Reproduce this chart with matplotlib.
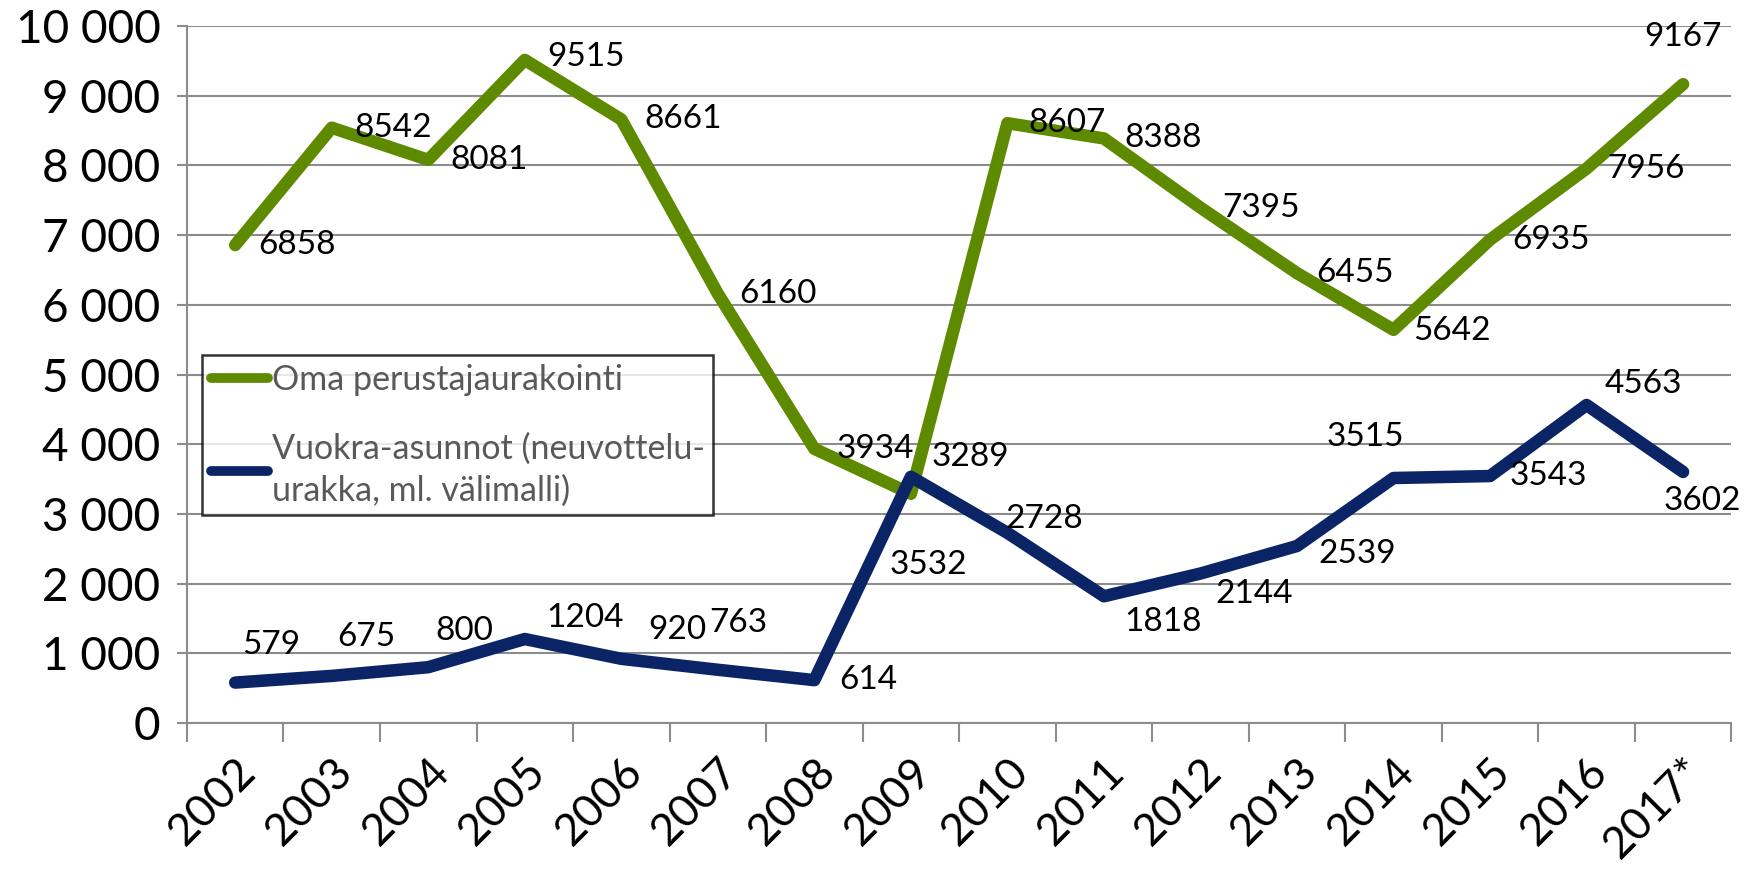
import numpy as np
import matplotlib.pyplot as plt

years = ['2002', '2003', '2004', '2005', '2006', '2007', '2008', '2009',
         '2010', '2011', '2012', '2013', '2014', '2015', '2016', '2017*']
oma = [6858, 8542, 8081, 9515, 8661, 6160, 3934, 3289,
       8607, 8388, 7395, 6455, 5642, 6935, 7956, 9167]
vuokra = [579, 675, 800, 1204, 920, 763, 614, 3532,
          2728, 1818, 2144, 2539, 3515, 3543, 4563, 3602]
names = ['Oma perustajaurakointi',
         'Vuokra-asunnot (neuvottelu-\nurakka, ml. välimalli)']

# label offsets (pixels, x right / y up)
oma_off = [(55, 0), (55, 0), (54, 0), (55, 3), (55, 0), (54, 0), (54, 0), (53, 33),
           (53, 0), (53, 0), (54, 0), (52, 0), (52, -1), (54, 0), (53, 0), (0, 42)]
vuokra_off = [(32, 34), (31, 35), (32, 32), (54, 19), (50, 26), (18, 42), (48, 0), (16, -79),
              (33, 12), (53, -23), (48, -18), (54, -7), (-25, 37), (52, 0), (51, 19), (17, -26)]

GREEN = '#5E8A00'
NAVY = '#0A2466'
GRID = '#8C8C8C'

plt.rcParams['font.family'] = ['Lato', 'DejaVu Sans']

fig = plt.figure(figsize=(17.57, 8.71), dpi=100)
ax = fig.add_axes([0.1064, 0.170, 0.879, 0.800])

x = np.arange(len(years))
for vals, col, lab, offs in [(oma, GREEN, names[0], oma_off), (vuokra, NAVY, names[1], vuokra_off)]:
    ax.plot(x, vals, color=col, lw=9, label=lab, solid_capstyle='round',
            solid_joinstyle='round', zorder=3)
    for xi, v, (dx, dy) in zip(x, vals, offs):
        ax.annotate(str(v), (xi, v), xytext=(dx * 1.12, dy * 1.12), textcoords='offset pixels',
                    ha='center', va='center', fontsize=24, color='black', zorder=4)

ax.set_xlim(-0.5, len(years) - 0.5)
ax.set_ylim(0, 10000)
ax.set_yticks(np.arange(0, 10001, 1000))
ax.set_yticklabels([f'{v:,}'.replace(',', ' ') for v in range(0, 10001, 1000)])
ax.yaxis.grid(True, color=GRID, lw=1.5)
ax.set_axisbelow(True)

ax.set_xticks(x)
ax.set_xticklabels(years, rotation=45, ha='right', rotation_mode='anchor')
ax.set_xticks(np.arange(-0.5, len(years), 1), minor=True)
ax.tick_params(axis='x', which='major', length=0, labelsize=32, pad=20)
ax.tick_params(axis='x', which='minor', length=14, width=1.5, color=GRID)
ax.tick_params(axis='y', length=7, width=1.5, color=GRID, labelsize=33, pad=12)

for s in ['top', 'right']:
    ax.spines[s].set_visible(False)
for s in ['left', 'bottom']:
    ax.spines[s].set_color(GRID)
    ax.spines[s].set_linewidth(1.5)

leg = ax.legend(loc='upper left', bbox_to_anchor=(0.115, 0.5924), bbox_transform=fig.transFigure,
                fontsize=24.5, frameon=True, fancybox=False, handlelength=1.7, handletextpad=0.1,
                labelspacing=1.1, borderpad=0.25, borderaxespad=0)
leg.get_frame().set_edgecolor('black')
leg.get_frame().set_linewidth(1.8)
for t in leg.get_texts():
    t.set_color('#595959')
    t.set_linespacing(1.35)
for h in leg.get_lines():
    h.set_linewidth(7)

fig.savefig('out.png', dpi=100)
